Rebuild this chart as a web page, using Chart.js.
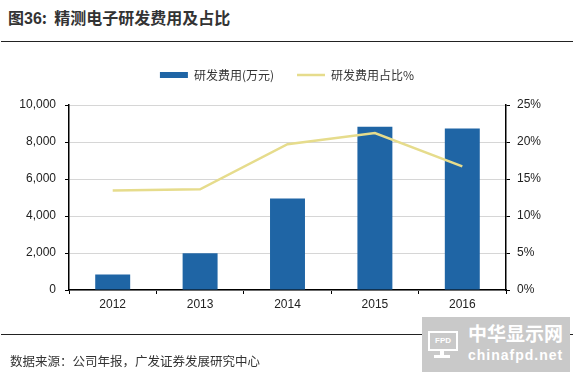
<!DOCTYPE html>
<html>
<head>
<meta charset="utf-8">
<script src="https://cdn.jsdelivr.net/npm/chart.js@4.4.0/dist/chart.umd.min.js"></script>
<style>
  html, body { margin:0; padding:0; background:#fff; }
  body { width:574px; height:377px; position:relative; overflow:hidden; font-family:"Noto Sans CJK SC", sans-serif; }
  #wrap { position:absolute; left:0; top:0; width:574px; height:377px; }
  .title { position:absolute; left:8px; top:5px; font-size:16px; font-weight:bold; color:#333; white-space:nowrap; letter-spacing:0; }
  .title .num { font-family:"Liberation Sans", Arial, sans-serif; letter-spacing:0; }
  .rule { position:absolute; left:1px; width:572px; height:1px; background:#222; }
  .source { position:absolute; left:10px; top:351px; font-size:12.5px; color:#333; white-space:nowrap; }
  .wm { position:absolute; left:422px; top:317px; width:148px; height:55px; background:#c9c9c9; color:#fff; overflow:hidden; }
  .wm .big { position:absolute; left:46px; top:6px; font-size:19px; line-height:20px; font-weight:bold; letter-spacing:0; }
  .wm .small { position:absolute; left:46px; top:30px; font-size:14px; line-height:16px; font-family:"Liberation Sans", Arial, sans-serif; font-weight:bold; letter-spacing:1px; }
  .wm .fpd { position:absolute; left:6px; top:14px; width:26px; height:16px; border:2px solid #fff; font-size:8px; font-family:"Liberation Sans", Arial, sans-serif; font-weight:bold; text-align:center; line-height:16px; }
  .wm .stand { position:absolute; left:18px; top:32px; width:4px; height:6px; background:#fff; }
  .wm .base { position:absolute; left:12px; top:38px; width:16px; height:3px; background:#fff; }
</style>
</head>
<body>
<div class="title">图<span class="num">36</span>:&nbsp;&nbsp;精测电子研发费用及占比</div>
<div class="rule" style="top:41px"></div>
<div id="wrap"><canvas id="chart-36"></canvas></div>
<div class="rule" style="top:334px"></div>
<div class="source">数据来源：公司年报，广发证券发展研究中心</div>
<div class="wm"><div class="fpd">FPD</div><div class="stand"></div><div class="base"></div><div class="big">中华显示网</div><div class="small">chinafpd.net</div></div>
<script>
const years = ['2012', '2013', '2014', '2015', '2016'];
const rdCost = [840, 1980, 4950, 8820, 8730];          // 万元
const rdRatio = [13.45, 13.6, 19.7, 21.2, 16.7];       // %
const costTicks = [0, 2000, 4000, 6000, 8000, 10000];
const ratioTicks = [0, 5, 10, 15, 20, 25];

const tickFont = { family: '"Liberation Sans", Arial, sans-serif', size: 12 };

// extra room between legend and plot
const legendGap = {
    id: 'legendGap',
    beforeInit(chart) {
        const fit = chart.legend.fit;
        chart.legend.fit = function() {
            fit.call(this);
            this.height += 14;
        };
    }
};

const ctx36 = document.getElementById('chart-36');
const chart36 = new Chart(ctx36, {
    type: 'bar',
    data: {
        labels: years,
        datasets: [{
            type: 'line',
            label: '研发费用占比%',
            data: rdRatio,
            yAxisID: 'y1',
            borderColor: '#e6dc8c',
            backgroundColor: '#e6dc8c',
            borderWidth: 2.5,
            pointRadius: 0,
            pointStyle: 'line',
            tension: 0,
            order: 0
        }, {
            label: '研发费用(万元)',
            data: rdCost,
            yAxisID: 'y',
            backgroundColor: '#1f65a5',
            pointStyle: 'rect',
            categoryPercentage: 1,
            barPercentage: 0.4,
            order: 1
        }]
    },
    options: {
        responsive: true,
        maintainAspectRatio: false,
        animation: false,
        layout: { padding: { top: 46, bottom: 62, left: 0, right: 0 } },
        plugins: {
            legend: {
                display: true,
                position: 'top',
                reverse: true,
                labels: {
                    usePointStyle: true,
                    pointStyleWidth: 28,
                    boxHeight: 6,
                    padding: 23,
                    color: '#333',
                    font: { family: '"Noto Sans CJK SC", sans-serif', size: 12 }
                }
            },
            tooltip: { enabled: false }
        },
        scales: {
            x: {
                grid: { display: true, drawOnChartArea: false, offset: true, tickLength: 4, tickColor: '#000' },
                border: { color: '#000', width: 1.5 },
                ticks: { color: '#222', font: tickFont, padding: 3 },
                afterFit: function(scale) { scale.height = 25; }
            },
            y: {
                position: 'left',
                min: 0,
                max: 10000,
                afterBuildTicks: function(scale) { scale.ticks = costTicks.map(v => ({ value: v })); },
                grid: { color: '#d6d6d6', tickLength: 4, tickColor: '#000' },
                border: { color: '#000', width: 1.5 },
                ticks: {
                    color: '#222',
                    font: tickFont,
                    padding: 9,
                    callback: function(value) { return value.toLocaleString('en-US'); }
                },
                afterFit: function(scale) { scale.width = 69; }
            },
            y1: {
                position: 'right',
                min: 0,
                max: 25,
                afterBuildTicks: function(scale) { scale.ticks = ratioTicks.map(v => ({ value: v })); },
                grid: { drawOnChartArea: false, tickLength: 4, tickColor: '#000' },
                border: { color: '#000', width: 1.5 },
                ticks: {
                    color: '#222',
                    font: tickFont,
                    padding: 7,
                    callback: function(value) { return value + '%'; }
                },
                afterFit: function(scale) { scale.width = 68; }
            }
        }
    },
    plugins: [legendGap]
});
</script>
</body>
</html>
